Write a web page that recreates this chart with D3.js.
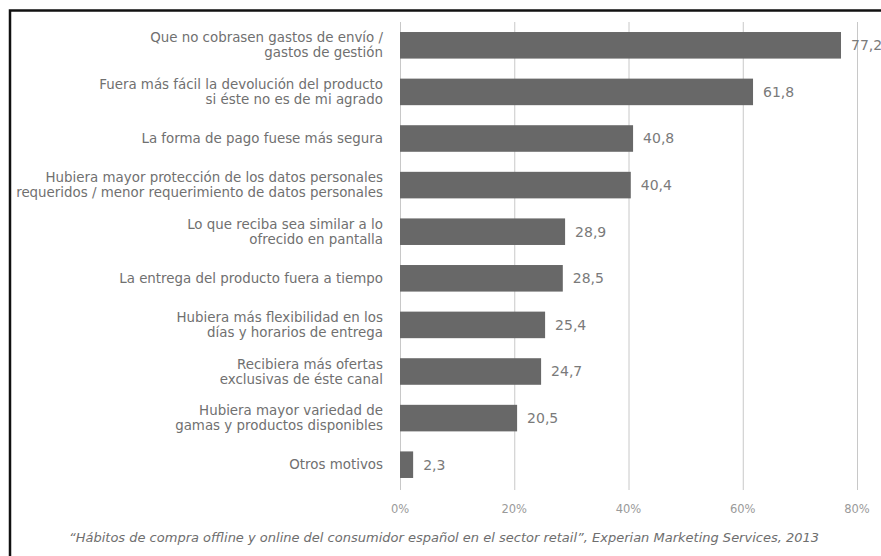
<!DOCTYPE html>
<html>
<head>
<meta charset="utf-8">
<script src="https://cdn.jsdelivr.net/npm/d3@7"></script>
<style>
  body { margin: 0; background: #fff; }
  svg text { font-family: "DejaVu Sans", sans-serif; }
</style>
</head>
<body>
<div class="container"></div>
<script>
// data
var categories = [
  "Que no cobrasen gastos de envío /\ngastos de gestión",
  "Fuera más fácil la devolución del producto\nsi éste no es de mi agrado",
  "La forma de pago fuese más segura",
  "Hubiera mayor protección de los datos personales\nrequeridos / menor requerimiento de datos personales",
  "Lo que reciba sea similar a lo\nofrecido en pantalla",
  "La entrega del producto fuera a tiempo",
  "Hubiera más flexibilidad en los\ndías y horarios de entrega",
  "Recibiera más ofertas\nexclusivas de éste canal",
  "Hubiera mayor variedad de\ngamas y productos disponibles",
  "Otros motivos"
];
var values = [77.2, 61.8, 40.8, 40.4, 28.9, 28.5, 25.4, 24.7, 20.5, 2.3];
var ticks = [0, 20, 40, 60, 80];
var source = "\u201CHábitos de compra offline y online del consumidor español en el sector retail\u201D, Experian Marketing Services, 2013";

var width = 881, height = 556;
var esLocale = d3.formatLocale({decimal: ",", thousands: ".", grouping: [3], currency: ["", "€"]});
var fmt = esLocale.format(".1f");

var svg = d3.select(".container").append("svg")
    .attr("width", width).attr("height", height);

// frame
svg.append("rect")
    .attr("x", 10).attr("y", 10.5)
    .attr("width", 900).attr("height", 600)
    .attr("fill", "none").attr("stroke", "#111").attr("stroke-width", 2.5);

var x = d3.scaleLinear().domain([0, 80]).range([400, 857]);
var y = d3.scaleBand().domain(categories).range([22, 488])
    .paddingInner(0.43).paddingOuter(0.215);

// grid lines
svg.selectAll(".grid")
    .data(ticks)
    .enter().append("line")
    .attr("class", "grid")
    .attr("x1", d => x(d) + 0.5).attr("x2", d => x(d) + 0.5)
    .attr("y1", 22).attr("y2", 490)
    .attr("stroke", "#c8c8c8").attr("stroke-width", 1);

// bars
svg.selectAll(".bar")
    .data(values)
    .enter().append("rect")
    .attr("class", "bar")
    .attr("x", x(0))
    .attr("y", (d, i) => y(categories[i]))
    .attr("width", d => x(d) - x(0))
    .attr("height", y.bandwidth())
    .attr("fill", "#686868");

// value labels
svg.selectAll(".val")
    .data(values)
    .enter().append("text")
    .attr("class", "val")
    .attr("x", d => x(d) + 10)
    .attr("y", (d, i) => y(categories[i]) + y.bandwidth() / 2)
    .attr("dy", "0.35em")
    .attr("font-size", 14)
    .attr("fill", "#7a7a7a")
    .text(d => fmt(d));

// category labels
var labels = svg.selectAll(".cat")
    .data(categories)
    .enter().append("g")
    .attr("class", "cat");

labels.each(function(c) {
  var lines = c.split("\n");
  var cy = y(c) + y.bandwidth() / 2;
  var g = d3.select(this);
  var t = g.append("text")
      .attr("text-anchor", "end")
      .attr("font-size", 13.4)
      .attr("fill", "#707070");
  lines.forEach(function(l, k) {
    t.append("tspan")
      .attr("x", 383)
      .attr("y", cy + (k - (lines.length - 1) / 2) * 15)
      .attr("dy", "0.35em")
      .text(l);
  });
  var bb = t.node().getBBox();
  g.insert("rect", "text")
      .attr("x", bb.x).attr("y", bb.y)
      .attr("width", bb.width).attr("height", bb.height)
      .attr("fill", "#fff");
});

// x axis tick labels
svg.selectAll(".tick-label")
    .data(ticks)
    .enter().append("text")
    .attr("class", "tick-label")
    .attr("x", d => x(d))
    .attr("y", 509)
    .attr("dy", "0.35em")
    .attr("text-anchor", "middle")
    .attr("font-size", 11.5)
    .attr("fill", "#9a9a9a")
    .text(d => d + "%");

// source note
svg.append("text")
    .attr("x", 444)
    .attr("y", 537)
    .attr("dy", "0.35em")
    .attr("text-anchor", "middle")
    .attr("font-size", 13)
    .attr("font-style", "italic")
    .attr("fill", "#6e6e6e")
    .text(source);
</script>
</body>
</html>
